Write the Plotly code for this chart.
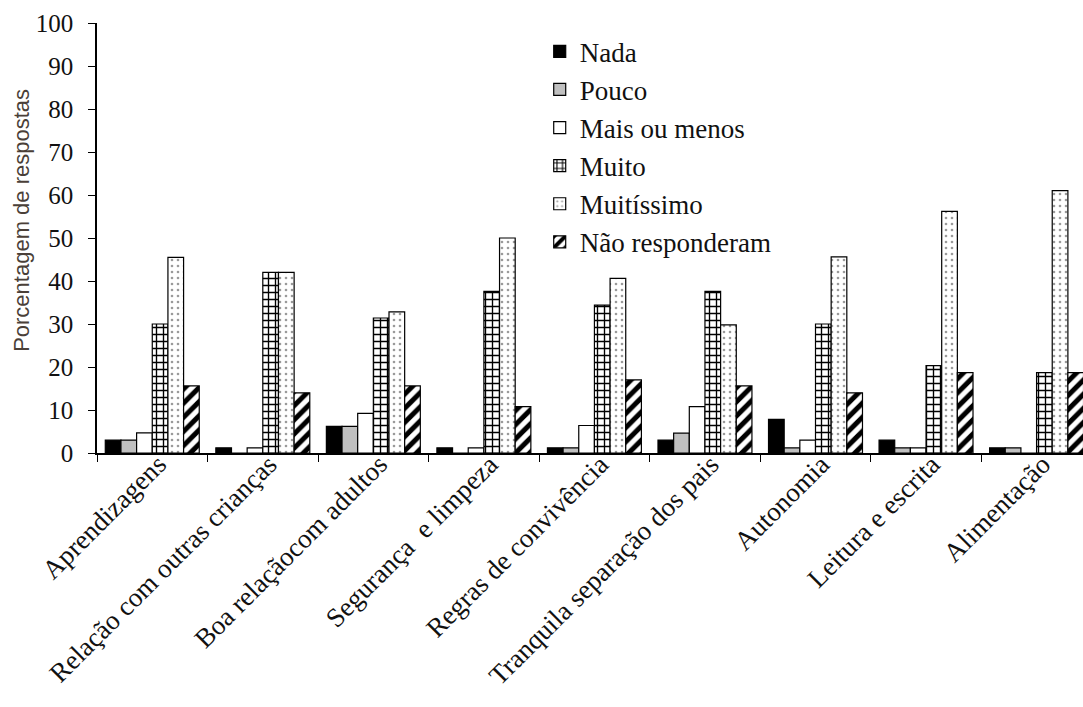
import plotly.graph_objects as go

# Assessment categories (x axis)
categories = [
    "Aprendizagens",
    "Relação com outras crianças",
    "Boa relaçãocom adultos",
    "Segurança  e limpeza",
    "Regras de convivência",
    "Tranquila separação dos pais",
    "Autonomia",
    "Leitura e escrita",
    "Alimentação",
]

# Percentage of answers per response level
nada = [3.0, 1.2, 6.2, 1.2, 1.2, 3.0, 7.8, 3.0, 1.2]
pouco = [3.0, 0.0, 6.2, 0.0, 1.2, 4.6, 1.2, 1.2, 1.2]
mais_ou_menos = [4.7, 1.2, 9.2, 1.2, 6.4, 10.8, 3.0, 1.2, 0.0]
muito = [30.0, 42.0, 31.4, 37.6, 34.4, 37.6, 30.0, 20.3, 18.7]
muitissimo = [45.5, 42.0, 32.8, 50.0, 40.6, 29.8, 45.6, 56.2, 61.0]
nao_responderam = [15.6, 14.0, 15.6, 10.8, 17.0, 15.6, 14.0, 18.7, 18.7]

y_ticks = [0, 10, 20, 30, 40, 50, 60, 70, 80, 90, 100]

serif = "Liberation Serif"
sans = "Liberation Sans"

series = [
    ("Nada", nada, dict(color="#000000")),
    ("Pouco", pouco, dict(color="#c0c0c0")),
    ("Mais ou menos", mais_ou_menos, dict(color="#ffffff")),
    ("Muito", muito, dict(color="#ffffff",
                          pattern=dict(shape="+", fgcolor="#000000", bgcolor="#ffffff",
                                       size=7, solidity=0.35, fillmode="replace"))),
    ("Muitíssimo", muitissimo, dict(color="#ffffff",
                                    pattern=dict(shape=".", fgcolor="#9a9a9a", bgcolor="#ffffff",
                                                 size=6, solidity=0.15, fillmode="replace"))),
    ("Não responderam", nao_responderam, dict(color="#ffffff",
                                              pattern=dict(shape="/", fgcolor="#000000", bgcolor="#ffffff",
                                                           size=10, solidity=0.5, fillmode="replace"))),
]

fig = go.Figure()
for name, values, style in series:
    marker = dict(style)
    marker["line"] = dict(color="#000000", width=1.2)
    fig.add_trace(go.Bar(name=name, x=categories, y=values, marker=marker))

# Vertical axis caption, placed as a rotated annotation left of the tick labels
fig.add_annotation(
    text="Porcentagem de respostas",
    xref="paper", yref="paper",
    x=-0.076, y=0.54,
    xanchor="center", yanchor="middle",
    textangle=-90,
    showarrow=False,
    font=dict(family=sans, size=22, color="#4a3f38"),
)

fig.update_layout(
    width=1083,
    height=707,
    autosize=False,
    margin=dict(l=97, r=0, t=23, b=254),
    paper_bgcolor="#ffffff",
    plot_bgcolor="#ffffff",
    barmode="group",
    bargap=0.15,
    bargroupgap=0,
    font=dict(family=serif, color="#000000"),
    legend=dict(
        x=0.449, y=0.99, xanchor="left", yanchor="top",
        font=dict(family=serif, size=27, color="#111111"),
        bgcolor="rgba(0,0,0,0)",
        traceorder="normal",
    ),
    xaxis=dict(
        type="category",
        range=[-0.5, 8.42],
        tickson="boundaries",
        ticks="outside",
        ticklen=7,
        tickcolor="#000000",
        tickwidth=1.2,
        tickangle=-45,
        ticklabelstandoff=-17,
        ticklabelshift=6,
        tickfont=dict(family=serif, size=27, color="#111111"),
        showline=True,
        linecolor="#000000",
        linewidth=1.5,
        showgrid=False,
        zeroline=False,
    ),
    yaxis=dict(
        range=[0, 100],
        tickvals=y_ticks,
        ticks="outside",
        ticklen=7,
        tickcolor="#000000",
        tickwidth=1.2,
        ticklabelstandoff=10,
        tickfont=dict(family=serif, size=25, color="#111111"),
        showline=True,
        linecolor="#000000",
        linewidth=1.5,
        showgrid=False,
        zeroline=False,
    ),
)

fig.write_html("out.html")
